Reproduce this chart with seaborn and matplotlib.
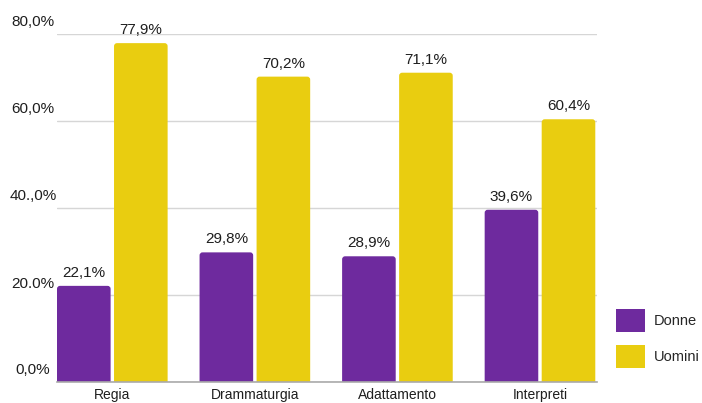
import matplotlib
matplotlib.use("Agg")
import matplotlib.pyplot as plt
import matplotlib.transforms as mtransforms
from matplotlib.patches import FancyBboxPatch, Patch
import pandas as pd
import seaborn as sns

# Data
categories = ["Regia", "Drammaturgia", "Adattamento", "Interpreti"]
donne = [22.1, 29.8, 28.9, 39.6]
uomini = [77.9, 70.2, 71.1, 60.4]
series_names = ["Donne", "Uomini"]
y_ticks = [0, 20, 40, 60, 80]
y_tick_labels = ["0,0%", "20.0%", "40.,0%", "60,0%", "80,0%"]

PURPLE = "#6E2A9E"
YELLOW = "#E9CD10"

df = pd.DataFrame({
    "categoria": categories * 2,
    "genere": [series_names[0]] * len(categories) + [series_names[1]] * len(categories),
    "valore": donne + uomini,
})

sns.set_theme(style="white")
plt.rcParams["font.family"] = ["Liberation Sans", "DejaVu Sans"]

W, H, DPI = 702, 403, 100
fig = plt.figure(figsize=(W / DPI, H / DPI), dpi=DPI)
ax = fig.add_axes([57 / W, (H - 382) / H, (597 - 57) / W, (382 - 34) / H])

sns.barplot(data=df, x="categoria", y="valore", hue="genere",
            order=categories, hue_order=series_names,
            palette=[PURPLE, YELLOW], width=0.8, gap=0.06,
            saturation=1, legend=False, ax=ax)

x_lo, x_hi = -0.388, 3.4
ax.set_xlim(x_lo, x_hi)
ax.set_ylim(0, 80)

# Rounded tops: redraw each bar as a rounded box whose lower corners sit below the axis
px_x = (597 - 57) / (x_hi - x_lo)
px_y = (382 - 34) / 80
r_px = 3.0
for bar in list(ax.patches):
    x, y = bar.get_x(), bar.get_y()
    w, h = bar.get_width(), bar.get_height()
    box = FancyBboxPatch((x, y - 3), w, h + 3,
                         boxstyle=f"round,pad=0,rounding_size={r_px / px_x}",
                         mutation_aspect=px_x / px_y,
                         facecolor=bar.get_facecolor(), edgecolor="none",
                         zorder=2, clip_on=True)
    ax.add_patch(box)
    bar.remove()

# Value labels above the bars
for hue_idx, vals in enumerate([donne, uomini]):
    for i, v in enumerate(vals):
        xc = i + (-0.2 if hue_idx == 0 else 0.2)
        ax.annotate(f"{v:.1f}".replace(".", ",") + "%", xy=(xc, v),
                    xytext=(0, 6.5), textcoords="offset points",
                    ha="center", va="baseline", fontsize=11,
                    color="#1E1E1E", annotation_clip=False)

# Grid and axes styling
ax.set_yticks(y_ticks)
ax.set_yticklabels(y_tick_labels)
ax.yaxis.grid(True, color="#D6D6D6", linewidth=1.0)
ax.set_axisbelow(True)
for s in ["top", "right", "left"]:
    ax.spines[s].set_visible(False)
ax.spines["bottom"].set_color("#AAAAAA")
ax.spines["bottom"].set_linewidth(1.2)
ax.tick_params(axis="y", length=0, pad=17.3, labelsize=11, labelcolor="#1E1E1E")
ax.tick_params(axis="x", length=0, pad=4, labelsize=10, labelcolor="#1E1E1E")
for lab in ax.get_yticklabels():
    lab.set_horizontalalignment("center")
    lab.set_transform(lab.get_transform() +
                      mtransforms.ScaledTranslation(0, 13 / DPI, fig.dpi_scale_trans))
ax.set_xlabel("")
ax.set_ylabel("")

# Legend on the right
handles = [Patch(facecolor=PURPLE, edgecolor="none"),
           Patch(facecolor=YELLOW, edgecolor="none")]
fig.legend(handles, series_names, loc="upper left",
           bbox_to_anchor=(616 / W, (H - 309) / H), frameon=False,
           fontsize=10.5, borderpad=0, handlelength=2.0, handleheight=2.0,
           labelspacing=0.95, handletextpad=0.6, borderaxespad=0)

fig.savefig("out.png", dpi=DPI)
